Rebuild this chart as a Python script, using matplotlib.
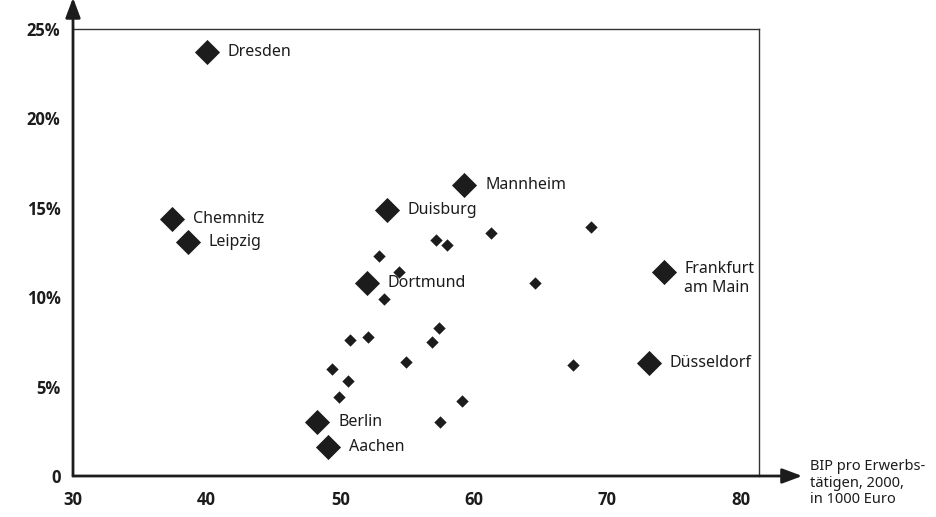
import matplotlib
matplotlib.use("Agg")
import matplotlib.pyplot as plt

# ---- data ----
big_names = ["Dresden", "Mannheim", "Chemnitz", "Duisburg", "Leipzig",
             "Frankfurt\nam Main", "Dortmund", "Düsseldorf", "Berlin", "Aachen"]
big_x = [40.0, 59.3, 37.4, 53.5, 38.6, 74.2, 52.0, 73.1, 48.3, 49.1]
big_y = [23.7, 16.3, 14.4, 14.9, 13.1, 11.4, 10.8, 6.3, 3.0, 1.6]

small_x = [61.3, 68.8, 57.2, 58.0, 52.9, 54.4, 64.6, 53.3, 57.4, 52.1,
           50.7, 56.9, 54.9, 67.4, 49.4, 50.6, 49.9, 59.1, 57.5]
small_y = [13.6, 13.9, 13.2, 12.9, 12.3, 11.4, 10.8, 9.9, 8.3, 7.8,
           7.6, 7.5, 6.4, 6.2, 6.0, 5.3, 4.4, 4.2, 3.0]

x_ticks = [30, 40, 50, 60, 70, 80]
y_ticks = [0, 5, 10, 15, 20, 25]
y_tick_labels = ["0", "5%", "10%", "15%", "20%", "25%"]
x_title = "BIP pro Erwerbs-\ntätigen, 2000,\nin 1000 Euro"

plt.rcParams['font.family'] = ['Noto Sans', 'DejaVu Sans']
ink = "#1c1c1c"
bold_family = ['Open Sans', 'DejaVu Sans']

fig = plt.figure(figsize=(9.36, 5.17), dpi=100)
ax = fig.add_axes([73/936, 41/517, (759-73)/936, (476-29)/517])
ax.set_xlim(30, 30 + (759-73)/13.36)
ax.set_ylim(0, 25)

ax.scatter(small_x, small_y, marker="D", s=6.3**2, color=ink, linewidths=0, zorder=3)
ax.scatter(big_x, big_y, marker="D", s=12.8**2, color=ink, linewidths=0, zorder=3)

for name, x, y in zip(big_names, big_x, big_y):
    if "\n" in name:
        ax.annotate(name, (x, y), xytext=(15, 8), textcoords="offset points",
                    ha="left", va="top", fontsize=11.5, color=ink, linespacing=1.25)
    else:
        ax.annotate(name, (x, y), xytext=(15, 0), textcoords="offset points",
                    ha="left", va="center", fontsize=11.5, color=ink)

# frame
for s in ["top", "right"]:
    ax.spines[s].set_linewidth(1.0)
    ax.spines[s].set_color("#333333")
for s in ["left", "bottom"]:
    ax.spines[s].set_visible(False)

# axis arrows
ax.annotate("", xy=(1.063, 0), xytext=(0, 0), xycoords="axes fraction",
            arrowprops=dict(arrowstyle="-|>,head_length=1.2,head_width=0.45",
                            color=ink, lw=2.0, shrinkA=0, shrinkB=0), annotation_clip=False)
ax.annotate("", xy=(0, 1.07), xytext=(0, 0), xycoords="axes fraction",
            arrowprops=dict(arrowstyle="-|>,head_length=1.2,head_width=0.45",
                            color=ink, lw=2.0, shrinkA=0, shrinkB=0), annotation_clip=False)

ax.set_xticks(x_ticks)
ax.set_xticklabels([str(v) for v in x_ticks], fontsize=12, fontweight="bold",
                   color=ink, family=bold_family)
ax.set_yticks(y_ticks)
ax.set_yticklabels(y_tick_labels, fontsize=12, fontweight="bold",
                   color=ink, family=bold_family)
ax.tick_params(axis="x", length=0, pad=11)
ax.tick_params(axis="y", length=0, pad=9)

fig.text(810/936, 1 - 459/517, x_title, ha="left", va="top", fontsize=10.5,
         color=ink, linespacing=1.15)

fig.savefig("out.png", dpi=100, facecolor="white")
